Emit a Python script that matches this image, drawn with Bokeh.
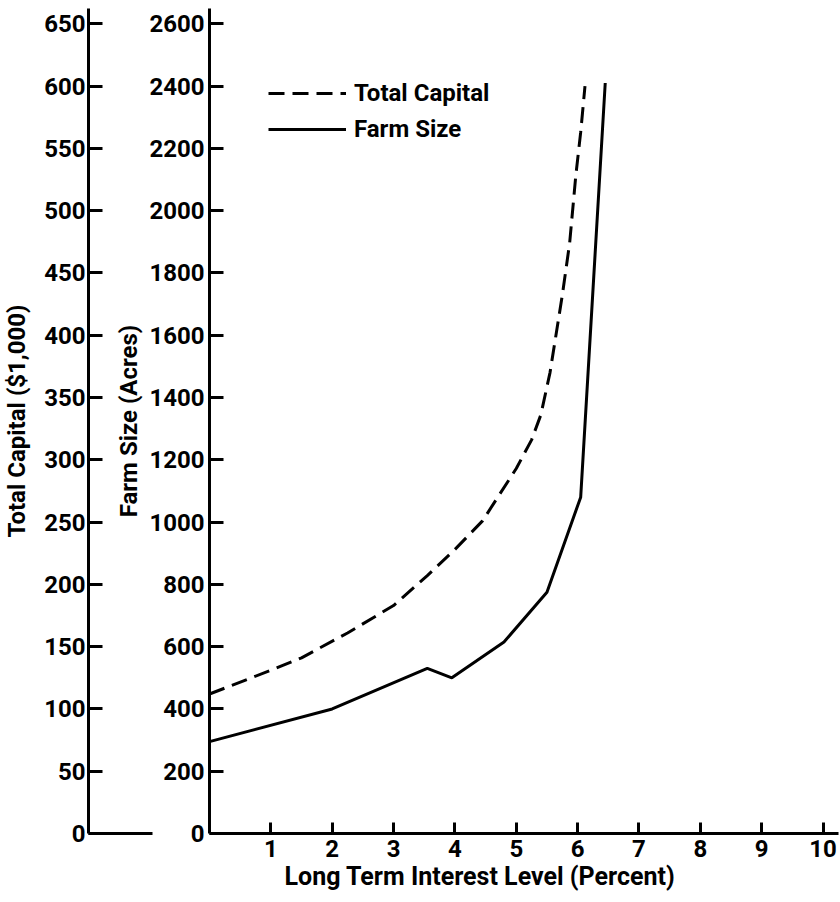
from bokeh.plotting import figure
from bokeh.models import Range1d, LinearAxis, FixedTicker, Legend, LegendItem, Title
from bokeh.embed import file_html
from bokeh.resources import INLINE

# ---- data ----
interest_ticks = [1, 2, 3, 4, 5, 6, 7, 8, 9, 10]
capital_ticks = [0, 50, 100, 150, 200, 250, 300, 350, 400, 450, 500, 550, 600, 650]
farm_ticks = [0, 200, 400, 600, 800, 1000, 1200, 1400, 1600, 1800, 2000, 2200, 2400, 2600]

# Total capital ($1,000) vs long-term interest level (%)
cap_x = [0, 1.0, 1.5, 2.25, 3.0, 3.55, 4.0, 4.45, 5.0, 5.25, 5.4, 5.55, 5.75, 5.87, 5.97, 6.05, 6.12]
cap_y = [112, 131, 141, 161, 183, 207, 228, 251, 293, 316, 336, 370, 432, 474, 528, 563, 600]

# Farm size (acres) vs long-term interest level (%)
farm_x = [0, 2.0, 3.55, 3.95, 4.8, 5.5, 6.05, 6.45]
farm_y = [295, 400, 530, 500, 615, 775, 1080, 2410]

FONT = "Roboto"
STYLE = "bold"
TICK_SIZE = "24px"

p = figure(width=840, height=900, output_backend="svg", toolbar_location=None,
           x_range=Range1d(0, 10.252), y_range=Range1d(0, 2649.2),
           min_border_left=208, min_border_right=2, min_border_top=8, min_border_bottom=67)
p.extra_y_ranges = {"capital": Range1d(0, 662.3)}
p.outline_line_color = None
p.xgrid.visible = False
p.ygrid.visible = False
p.background_fill_color = "white"
p.border_fill_color = "white"

# Inner left axis: Farm Size (at the frame edge)
farm_axis = p.yaxis[0]
farm_axis.ticker = FixedTicker(ticks=farm_ticks)
farm_axis.axis_label = "Farm Size (Acres)"
farm_axis.major_label_standoff = 5
farm_axis.axis_label_standoff = 3

# invisible spacer between the two vertical axes
spacer = LinearAxis(y_range_name="capital", ticker=FixedTicker(ticks=[300]))
spacer.major_label_overrides = {300: ""}
spacer.axis_line_color = None
spacer.major_tick_line_color = None
spacer.minor_tick_line_color = None
spacer.major_tick_in = 0
spacer.major_tick_out = 24
spacer.minor_tick_out = 0
spacer.major_label_standoff = 0
p.add_layout(spacer, "left")

# Outer left axis: Total Capital, with a long minor tick forming its base line
cap_axis = LinearAxis(y_range_name="capital",
                      ticker=FixedTicker(ticks=capital_ticks, minor_ticks=[0]),
                      axis_label="Total Capital ($1,000)")
cap_axis.major_label_standoff = 3
cap_axis.axis_label_standoff = 10
cap_axis.minor_tick_in = 64
cap_axis.minor_tick_out = 0
cap_axis.minor_tick_line_width = 3
cap_axis.minor_tick_line_color = "black"
p.add_layout(cap_axis, "left")

for ax in (cap_axis, farm_axis):
    ax.major_tick_in = 14
    ax.major_tick_out = 0
    ax.axis_line_width = 3
    ax.major_tick_line_width = 3
    ax.axis_line_color = "black"
    ax.major_tick_line_color = "black"
    ax.major_label_text_font = FONT
    ax.major_label_text_font_style = STYLE
    ax.major_label_text_font_size = TICK_SIZE
    ax.major_label_text_color = "black"
    ax.axis_label_text_font = FONT
    ax.axis_label_text_font_size = "24px"
    ax.axis_label_text_font_style = STYLE
    ax.axis_label_text_color = "black"
farm_axis.minor_tick_line_color = None

# Bottom axis
xax = p.xaxis[0]
xax.ticker = FixedTicker(ticks=interest_ticks)
xax.major_tick_in = 11
xax.major_tick_out = 0
xax.minor_tick_line_color = None
xax.axis_line_width = 3
xax.major_tick_line_width = 3
xax.major_label_standoff = 6
xax.major_label_text_font = FONT
xax.major_label_text_font_style = STYLE
xax.major_label_text_font_size = TICK_SIZE
xax.major_label_text_color = "black"

p.add_layout(Title(text="Long Term Interest Level (Percent)", align="left", offset=75,
                   text_font=FONT, text_font_size="25px", text_font_style=STYLE,
                   text_color="black", standoff=0), "below")

r_cap = p.line(cap_x, cap_y, y_range_name="capital", line_width=3, line_color="black",
               line_dash="16 8")
r_farm = p.line(farm_x, farm_y, line_width=3, line_color="black")

legend = Legend(items=[LegendItem(label="Total Capital", renderers=[r_cap]),
                       LegendItem(label="Farm Size", renderers=[r_farm])],
                location=(59, 690), glyph_width=78, glyph_height=20,
                label_standoff=8, spacing=8, padding=0, margin=0,
                border_line_alpha=0, background_fill_alpha=0,
                label_text_font=FONT, label_text_font_size="24px",
                label_text_font_style=STYLE, label_text_color="black")
p.add_layout(legend)

open("out.html", "w").write(file_html(p, INLINE))
